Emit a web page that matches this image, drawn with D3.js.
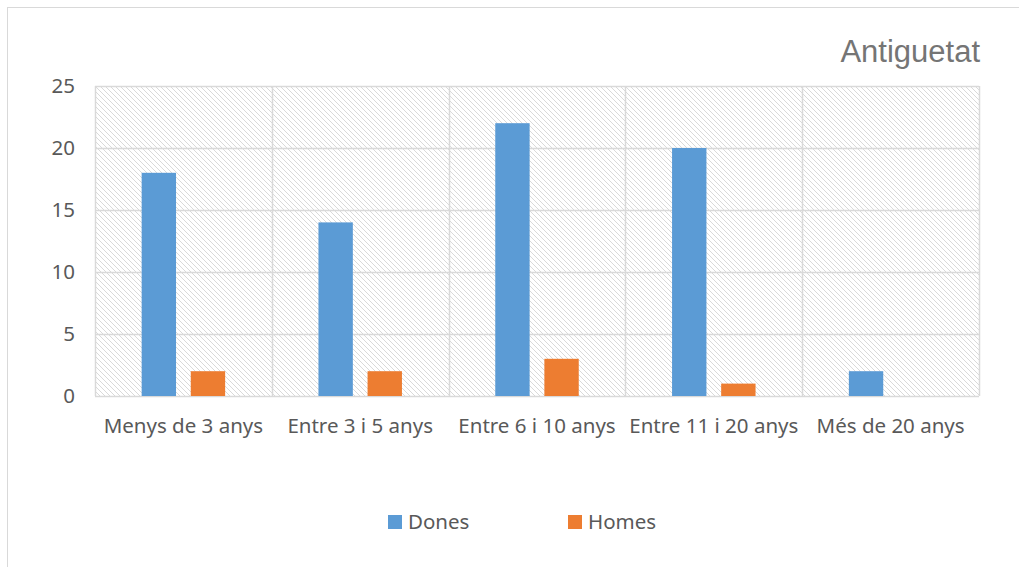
<!DOCTYPE html>
<html>
<head>
<meta charset="utf-8">
<script src="https://cdn.jsdelivr.net/npm/d3@7"></script>
<style>
  body { margin: 0; background: #fff; }
  text { font-family: "Noto Sans", "Open Sans", sans-serif; }
</style>
</head>
<body>
<div id="chart"></div>
<script>
// chart data
var categories = ["Menys de 3 anys", "Entre 3 i 5 anys", "Entre 6 i 10 anys", "Entre 11 i 20 anys", "Més de 20 anys"];
var seriesNames = ["Dones", "Homes"];
var dones = [18, 14, 22, 20, 2];
var homes = [2, 2, 3, 1, 0];
var yTicks = [0, 5, 10, 15, 20, 25];
var colors = ["#5b9bd5", "#ed7d31"];

var svgWidth = 1019, svgHeight = 567;
var margin = { top: 86, right: 40, bottom: 171, left: 95 };
var width = svgWidth - margin.left - margin.right;
var height = svgHeight - margin.top - margin.bottom;

var svg = d3.select("#chart").append("svg")
  .attr("width", svgWidth)
  .attr("height", svgHeight);

// outer frame (only top and left edges visible)
svg.append("rect")
  .attr("x", 7.5).attr("y", 7.5)
  .attr("width", 1030).attr("height", 600)
  .attr("fill", "none")
  .attr("stroke", "#d9d9d9");

// hatch pattern for plot background
var defs = svg.append("defs");
var pat = defs.append("pattern")
  .attr("id", "hatch")
  .attr("patternUnits", "userSpaceOnUse")
  .attr("width", 5).attr("height", 5);
pat.append("path")
  .attr("d", "M-1,-1 L6,6 M-1,4 L1,6 M4,-1 L6,1")
  .attr("stroke", "#d9d9d9")
  .attr("stroke-width", 1);

var chartGroup = svg.append("g")
  .attr("transform", `translate(${margin.left}, ${margin.top})`);

var xScale = d3.scaleBand()
  .domain(categories)
  .range([0, width]);

var yScale = d3.scaleLinear()
  .domain([0, 25])
  .range([height, 0]);

chartGroup.append("rect")
  .attr("width", width).attr("height", height)
  .attr("fill", "url(#hatch)");

// horizontal gridlines
chartGroup.selectAll(".hgrid")
  .data(yTicks)
  .enter()
  .append("line")
  .attr("x1", 0).attr("x2", width)
  .attr("y1", d => Math.round(yScale(d)) + 0.5)
  .attr("y2", d => Math.round(yScale(d)) + 0.5)
  .attr("stroke", "#d9d9d9")
  .attr("stroke-width", 1.5);

// vertical gridlines between categories
var vlines = categories.map(c => xScale(c)).concat([width]);
chartGroup.selectAll(".vgrid")
  .data(vlines)
  .enter()
  .append("line")
  .attr("x1", d => Math.round(d) + 0.5).attr("x2", d => Math.round(d) + 0.5)
  .attr("y1", 0).attr("y2", height)
  .attr("stroke", "#d9d9d9")
  .attr("stroke-width", 1.5);

// bars
var inner = d3.scaleBand()
  .domain(seriesNames)
  .range([0, xScale.bandwidth()])
  .paddingInner(0.3)
  .paddingOuter(0.95);

var rows = categories.map((c, i) => ({ cat: c, vals: [dones[i], homes[i]] }));

var groups = chartGroup.selectAll(".cat")
  .data(rows)
  .enter()
  .append("g")
  .attr("transform", d => `translate(${xScale(d.cat)},0)`);

groups.selectAll("rect")
  .data(d => d.vals.map((v, j) => ({ name: seriesNames[j], v: v, j: j })).filter(e => e.v > 0))
  .enter()
  .append("rect")
  .attr("x", d => inner(d.name))
  .attr("width", inner.bandwidth())
  .attr("y", d => yScale(d.v))
  .attr("height", d => yScale(0) - yScale(d.v))
  .attr("fill", d => colors[d.j]);

// y axis labels
var leftAxis = d3.axisLeft(yScale).tickValues(yTicks).tickSize(0).tickPadding(20);
var yAxis = chartGroup.append("g").call(leftAxis);
yAxis.select(".domain").remove();
yAxis.selectAll("text")
  .attr("font-size", 20.5)
  .attr("fill", "#595959")
  .style("font-family", "'Noto Sans', sans-serif");

// x axis labels
var bottomAxis = d3.axisBottom(xScale).tickSize(0).tickPadding(22);
var xAxis = chartGroup.append("g")
  .attr("transform", `translate(0, ${height})`)
  .call(bottomAxis);
xAxis.select(".domain").remove();
xAxis.selectAll("text")
  .attr("font-size", 20.5)
  .attr("fill", "#595959")
  .style("font-family", "'Noto Sans', sans-serif");

// title
svg.append("text")
  .attr("x", 980).attr("y", 62)
  .attr("text-anchor", "end")
  .attr("font-size", 31)
  .attr("fill", "#757575")
  .style("font-family", "'Liberation Sans', Arial, sans-serif")
  .text("Antiguetat");

// legend
var legendX = [388, 568];
var legend = svg.selectAll(".legend")
  .data(seriesNames)
  .enter()
  .append("g")
  .attr("transform", (d, i) => `translate(${legendX[i]}, 515)`);
legend.append("rect")
  .attr("width", 14).attr("height", 14)
  .attr("fill", (d, i) => colors[i]);
legend.append("text")
  .attr("x", 20).attr("y", 14)
  .attr("font-size", 20.5)
  .attr("fill", "#595959")
  .text(d => d);
</script>
</body>
</html>
